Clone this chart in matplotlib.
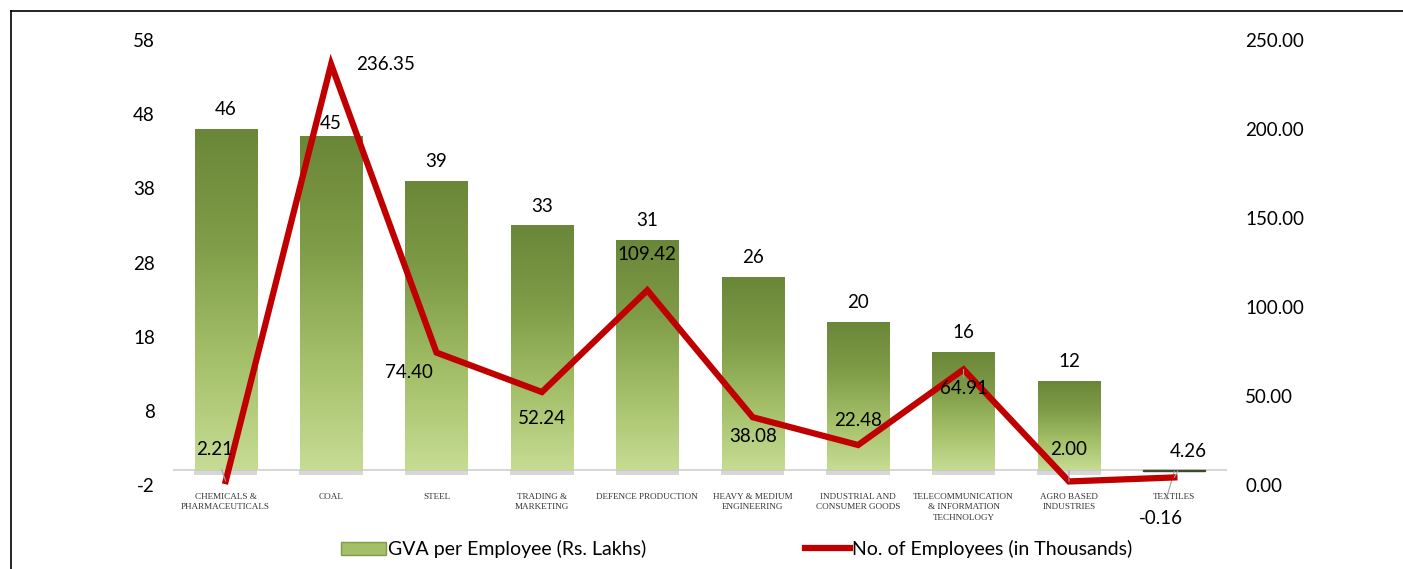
import matplotlib
matplotlib.use('Agg')
import matplotlib.pyplot as plt
import numpy as np
from matplotlib.colors import LinearSegmentedColormap
from matplotlib.lines import Line2D
from matplotlib.patches import Patch

plt.rcParams['font.family'] = ['Lato', 'DejaVu Sans']
plt.rcParams['axes.unicode_minus'] = False

sectors = ['CHEMICALS &\nPHARMACEUTICALS', 'COAL', 'STEEL', 'TRADING &\nMARKETING',
           'DEFENCE PRODUCTION', 'HEAVY & MEDIUM\nENGINEERING', 'INDUSTRIAL AND\nCONSUMER GOODS',
           'TELECOMMUNICATION\n& INFORMATION\nTECHNOLOGY', 'AGRO BASED\nINDUSTRIES', 'TEXTILES']
gva = [46, 45, 39, 33, 31, 26, 20, 16, 12, -0.16]
gva_labels = ['46', '45', '39', '33', '31', '26', '20', '16', '12', '-0.16']
employees = [2.21, 236.35, 74.40, 52.24, 109.42, 38.08, 22.48, 64.91, 2.00, 4.26]
left_ticks = [-2, 8, 18, 28, 38, 48, 58]
right_ticks = [0, 50, 100, 150, 200, 250]

# label offsets (points) for the line labels
emp_offsets = [(-8, 23), (39, 0), (-20, -14), (0, -19), (0, 26),
               (0, -14), (0, 18), (0, -14), (0, 23), (10, 19)]
emp_leader = [True, False, False, False, False, False, False, True, True, True]

fig = plt.figure(figsize=(14.03, 5.69), dpi=100)
ax = fig.add_axes([0.1233, 0.1476, 0.7513, 0.782])
ax2 = ax.twinx()

x = np.arange(len(sectors))
bars = ax.bar(x, gva, width=0.59, color='#9bb661', edgecolor='none', zorder=2)

cmap = LinearSegmentedColormap.from_list('g', ['#c6dc93', '#a3bf68', '#7f9c48', '#6a8638'])
grad = np.linspace(0, 1, 256).reshape(-1, 1)
for b in bars:
    h = b.get_height()
    if h <= 0:
        b.set_color('#3d4a2a')
        continue
    x0 = b.get_x()
    im = ax.imshow(grad, extent=[x0, x0 + b.get_width(), 0, h], origin='lower',
                   aspect='auto', cmap=cmap, zorder=2.5)
    im.set_clip_path(b)
    # soft shadow at the base
    ax.bar(b.get_x() + b.get_width() / 2, -0.6, width=b.get_width() * 1.02,
           color='#bdbdbd', alpha=0.6, zorder=1.5)

ax.axhline(0, color='#d0d0d0', lw=1.2, zorder=1)

for xi, v, lab in zip(x, gva, gva_labels):
    if v < 0:
        ax.annotate(lab, (xi, v), xytext=(-10, -34), textcoords='offset points',
                    ha='center', va='center', fontsize=13.5,
                    arrowprops=dict(arrowstyle='-', color='#a0a0a0', lw=0.8, shrinkA=6, shrinkB=0))
    else:
        off = 9 if lab == '45' else 14
        ax.annotate(lab, (xi, v), xytext=(0, off), textcoords='offset points',
                    ha='center', va='center', fontsize=13.5, zorder=5)

ax.set_xlim(-0.5, len(sectors) - 0.5)
ax.set_ylim(-2, 58)
ax.set_yticks(left_ticks)
ax.set_xticks(x)
ax.set_xticklabels(sectors, fontsize=6.6, family='Liberation Serif', color='#333333',
                   linespacing=1.35)
ax.tick_params(axis='x', length=0, pad=6)
ax.tick_params(axis='y', length=0, pad=13, labelsize=13.5)

ax2.plot(x, employees, color='#c00000', lw=4.5, solid_joinstyle='miter', zorder=4)
ax2.set_ylim(0, 250)
ax2.set_yticks(right_ticks)
ax2.set_yticklabels(['%.2f' % t for t in right_ticks])
ax2.tick_params(axis='y', length=0, pad=13, labelsize=13.5)

for xi, v, off, lead in zip(x, employees, emp_offsets, emp_leader):
    kw = {}
    if lead:
        kw['arrowprops'] = dict(arrowstyle='-', color='#a0a0a0', lw=0.8, shrinkA=7, shrinkB=0)
    ax2.annotate('%.2f' % v, (xi, v), xytext=off, textcoords='offset points',
                 ha='center', va='center', fontsize=13.5, zorder=6, **kw)

for a in (ax, ax2):
    for s in a.spines.values():
        s.set_visible(False)

handles = [Patch(facecolor='#a3bf68', edgecolor='#7f9c48'),
           Line2D([0], [0], color='#c00000', lw=4.5)]
fig.legend(handles, ['GVA per Employee (Rs. Lakhs)', 'No. of Employees (in Thousands)'],
           loc='center', bbox_to_anchor=(0.525, 0.035), ncol=2, frameon=False,
           fontsize=14, handlelength=2.3, handletextpad=0.1, columnspacing=8.2)

# outer chart border (cut at right and bottom)
fig.add_artist(Line2D([11 / 1403, 11 / 1403], [0, 1 - 11 / 569], color='black', lw=1.2))
fig.add_artist(Line2D([11 / 1403, 1], [1 - 11 / 569, 1 - 11 / 569], color='black', lw=1.2))

fig.savefig('out.png', dpi=100)
